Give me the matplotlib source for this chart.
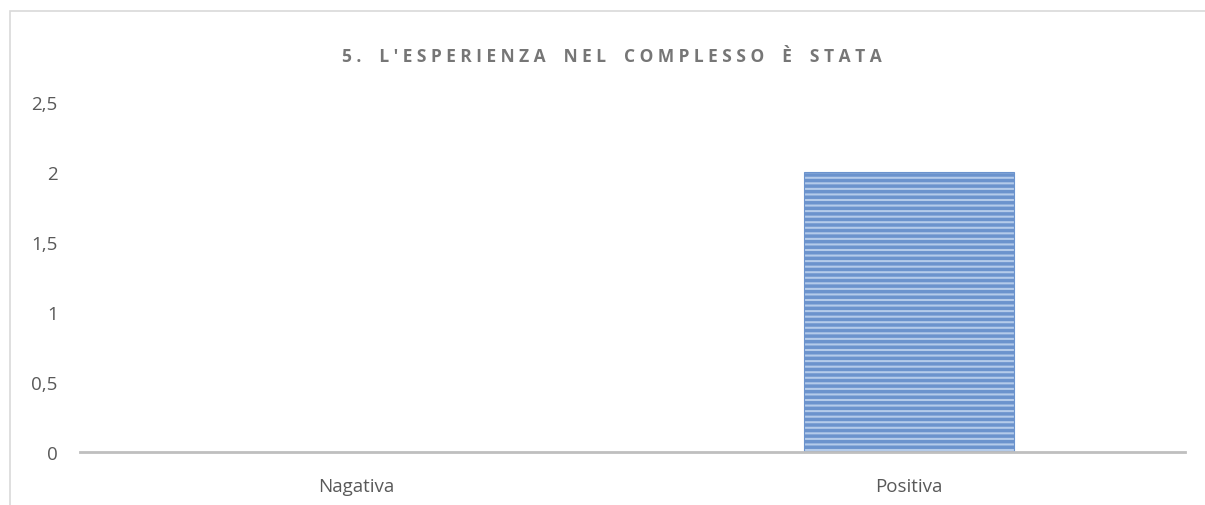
import matplotlib
matplotlib.use("Agg")
import matplotlib.pyplot as plt
from matplotlib.patches import Rectangle

categories = ["Nagativa", "Positiva"]
values = [0, 2]
yticks = [0, 0.5, 1, 1.5, 2, 2.5]
ytick_labels = ["0", "0,5", "1", "1,5", "2", "2,5"]
title = "5. L'ESPERIENZA NEL COMPLESSO È STATA"

plt.rcParams['font.family'] = ['Open Sans', 'DejaVu Sans']
plt.rcParams['hatch.linewidth'] = 2.5

W, H = 1205, 506
fig = plt.figure(figsize=(W / 100, H / 100), dpi=100)

# chart frame (cropped at right and bottom)
fig.patches.append(Rectangle((10 / W, -0.1), 1.1, (H - 12) / H + 0.1,
                             transform=fig.transFigure, fill=False,
                             edgecolor='#d9d9d9', linewidth=1.2))

ax = fig.add_axes([80 / W, 53 / H, 1105 / W, 350 / H])
x = list(range(len(categories)))
ax.bar(x, values, width=0.38, color='#b4cbea', edgecolor='#6b93cd',
       hatch='---', linewidth=0.8)
ax.set_xlim(-0.5, 1.5)
ax.set_ylim(0, 2.5)
ax.set_yticks(yticks)
ax.set_yticklabels(ytick_labels)
ax.set_xticks(x)
ax.set_xticklabels(categories)
for s in ['top', 'right', 'left']:
    ax.spines[s].set_visible(False)
ax.spines['bottom'].set_color('#bfbfbf')
ax.spines['bottom'].set_linewidth(2)
ax.tick_params(axis='both', length=0, colors='#595959', labelsize=13.5)
ax.tick_params(axis='y', pad=16)
ax.tick_params(axis='x', pad=18)

def spaced(t):
    words = t.split(' ')
    return '    '.join(' '.join(w) for w in words)

fig.text(612 / W, 1 - 57 / H, spaced(title), ha='center', va='center',
         fontsize=12.5, fontweight='bold', color='#767676')

fig.savefig('out.png', dpi=100)
